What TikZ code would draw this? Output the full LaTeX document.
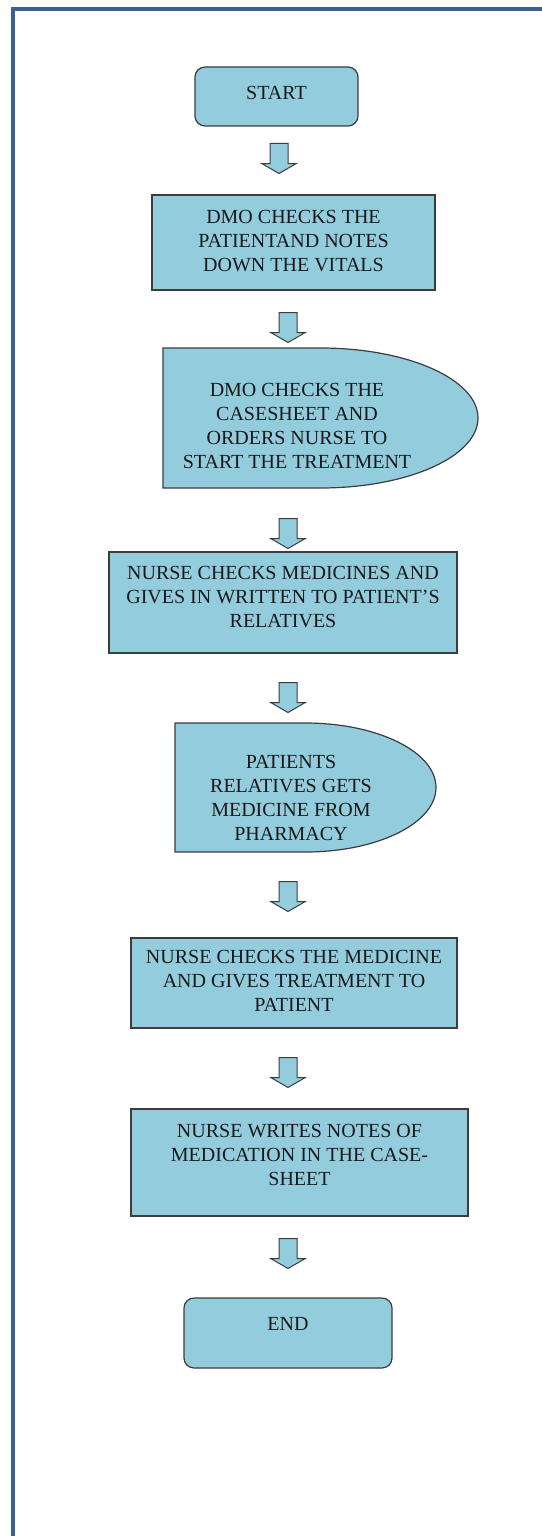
\documentclass[tikz,border=0pt]{standalone}
\usepackage{fontspec}
\setmainfont{Liberation Serif}
\usetikzlibrary{shapes.arrows}
\definecolor{boxblue}{RGB}{147,205,221}
\definecolor{edgegray}{RGB}{60,60,60}
\definecolor{framecol}{RGB}{59,96,146}
\definecolor{txtgray}{RGB}{25,25,25}

\begin{document}
\begin{tikzpicture}[x=1pt,y=-1pt,
    every node/.style={font=\fontsize{20}{24}\selectfont, text=txtgray},
    process/.style={draw=edgegray, fill=boxblue, line width=1.2pt, align=center, inner sep=0pt},
    terminal/.style={process, rounded corners=10pt},
    delaytext/.style={align=center, inner sep=0pt},
    delayshape/.style={draw=edgegray, fill=boxblue, line width=1.2pt},
    blockarrow/.style={single arrow, draw=edgegray, fill=boxblue, line width=1pt,
        rotate=-90, anchor=tail, minimum height=30pt, inner xsep=0pt, inner ysep=8.5pt,
        single arrow head extend=8pt, single arrow tip angle=120}]
        \useasboundingbox (0,0) rectangle (541,1536);
        % Frame (runs off the page on the right and bottom)
        \draw[framecol, line width=4pt] (13,1540) -- (13,9) -- (545,9);
        % Start
        \node[terminal, minimum width=163pt, minimum height=59pt, text height=14pt, text depth=7pt] (start) at (276.5,96.5) {START};
        \node[blockarrow] (a1) at (279,143) {};
        % Steps
        \node[process, minimum width=283pt, minimum height=95pt, text depth=4pt] (vitals) at (293.5,242.5)
            {DMO CHECKS THE\\PATIENTAND NOTES\\DOWN THE VITALS};
        \node[blockarrow] (a2) at (288,312) {};
        \filldraw[delayshape] (163,348) -- (320.5,348) arc[start angle=90, end angle=-90, x radius=157.5pt, y radius=70pt] -- (163,488) -- cycle;
        \node[delaytext] (casesheet) at (297,425.5)
            {DMO CHECKS THE\\CASESHEET AND\\ORDERS NURSE TO\\START THE TREATMENT};
        \node[blockarrow] (a3) at (288,518) {};
        \node[process, minimum width=348pt, minimum height=101pt, text depth=12pt] (medicines) at (283,602.5)
            {NURSE CHECKS MEDICINES AND\\GIVES IN WRITTEN TO PATIENT’S\\RELATIVES};
        \node[blockarrow] (a4) at (288,682) {};
        \filldraw[delayshape] (175,723) -- (305.5,723) arc[start angle=90, end angle=-90, x radius=130.5pt, y radius=64.5pt] -- (175,852) -- cycle;
        \node[delaytext] (pharmacy) at (291,798)
            {PATIENTS\\RELATIVES GETS\\MEDICINE FROM\\PHARMACY};
        \node[blockarrow] (a5) at (288,881) {};
        \node[process, minimum width=326pt, minimum height=90pt, text depth=4pt] (treatment) at (294,983)
            {NURSE CHECKS THE MEDICINE\\AND GIVES TREATMENT TO\\PATIENT};
        \node[blockarrow] (a6) at (288,1057) {};
        \node[process, minimum width=337pt, minimum height=107pt, text depth=16pt] (notes) at (299.5,1162.5)
            {NURSE WRITES NOTES OF\\MEDICATION IN THE CASE-\\SHEET};
        \node[blockarrow] (a7) at (288,1238) {};
        % End
        \node[terminal, minimum width=208pt, minimum height=70pt, text height=14pt, text depth=20pt] (finish) at (288,1333) {END};
\end{tikzpicture}
\end{document}
